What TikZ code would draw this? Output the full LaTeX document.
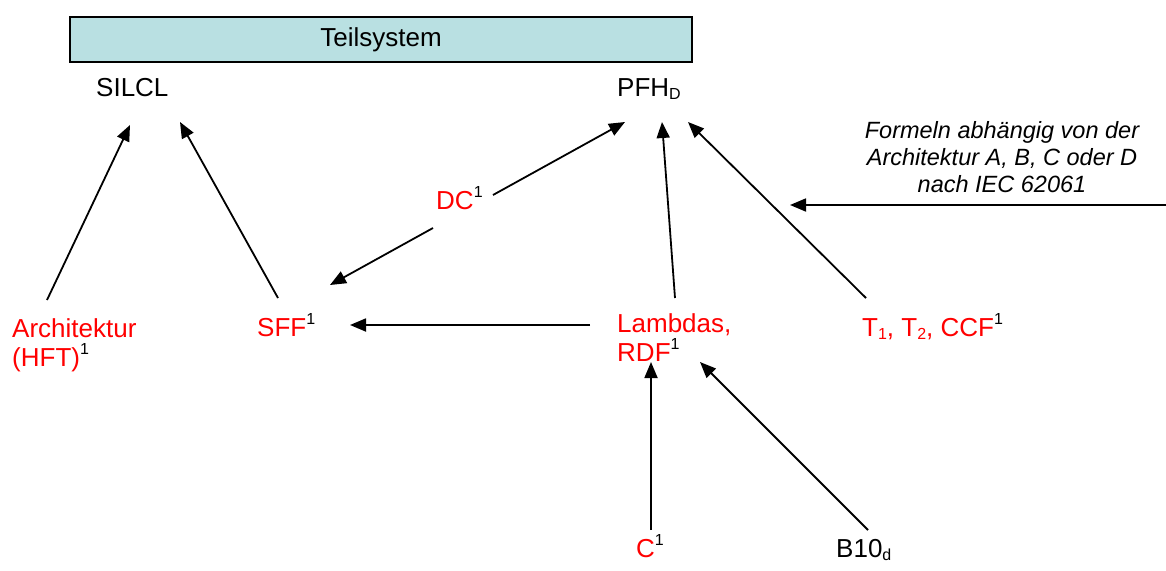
\documentclass[tikz,border=0pt]{standalone}
\usepackage{fontspec}
\setmainfont{Liberation Sans}
\usepackage{xcolor}
\usetikzlibrary{arrows.meta, positioning, calc}
\definecolor{boxteal}{RGB}{185,224,226}
% footnote mark (black) and lowered index
\newcommand{\fnone}{\textcolor{black}{\raisebox{12pt}{\fontsize{16}{16}\selectfont 1}}}
\newcommand{\lowidx}[1]{\raisebox{-3.5pt}{\fontsize{16}{16}\selectfont #1}}

\begin{document}
\begin{tikzpicture}[
            x=1pt, y=-1pt,
            font=\fontsize{26}{29}\selectfont,
            >={Triangle[length=16pt, width=13pt]},
            arr/.style  ={->, line width=1.8pt},
            lbl/.style  ={inner sep=0pt, anchor=base west},
            fac/.style  ={lbl, text=red},
            facml/.style={inner sep=0pt, anchor=north west, align=left, text=red},
            note/.style ={font=\fontsize{23.5}{27}\selectfont\itshape, align=center, inner sep=0pt}
        ]
        \useasboundingbox (0,0) rectangle (1166,570);

        %% ===== top: subsystem and its results =====
        \node[draw, fill=boxteal, line width=1.3pt, minimum width=622pt,
              minimum height=45pt, inner sep=0pt] (teil) at (381,39.5) {Teilsystem};
        \node[lbl] (silcl) at (96,96)  {SILCL};
        \node[lbl] (pfh)   at (617,96) {PFH\lowidx{D}};

        \node[note] (formeln) at (1002,157)
            {Formeln abhängig von der\\ Architektur A, B, C oder D\\ nach IEC 62061};
        \coordinate (fhint) at (790,205);

        %% ===== middle row: parameters =====
        \node[facml] (arch) at (12,318)  {Architektur\\ (HFT)\fnone};
        \node[fac]   (sff)  at (257,336) {SFF\fnone};
        \node[fac]   (dc)   at (436,209) {DC\fnone};
        \node[facml] (lam)  at (617,313) {Lambdas,\\ RDF\fnone};
        \node[fac]   (tcc)  at (862,336) {T\lowidx{1}, T\lowidx{2}, CCF\fnone};

        %% ===== bottom row =====
        \node[fac] (cc)  at (636,557) {C\fnone};
        \node[lbl] (b10) at (836,557) {B10\lowidx{d}};

        %% ===== arrows =====
        \draw[arr] ([shift={(35,-18)}]arch.north west) -- ([shift={(34,29)}]silcl.base west);
        \draw[arr] ([shift={(21,-38)}]sff.base west)   -- ([shift={(84,26)}]silcl.base west);
        \draw[arr] ([shift={(57,-14)}]dc.base west)    -- ([shift={(8,26)}]pfh.base west);
        \draw[arr] ([shift={(-3,19)}]dc.base west)     -- ([shift={(73,-51)}]sff.base west);
        \draw[arr] ([shift={(58,-15)}]lam.north west)  -- ([shift={(45,26)}]pfh.base west);
        \draw[arr] ([shift={(4,-38)}]tcc.base west)    -- ([shift={(71,26)}]pfh.base west);
        \draw[arr] ([shift={(-27,12)}]lam.north west)  -- ([shift={(93,-11)}]sff.base west);
        \draw[arr] ([shift={(15,-27)}]cc.base west)    -- ([shift={(34,49)}]lam.north west);
        \draw[arr] ([shift={(32,-27)}]b10.base west)   -- ([shift={(83,49)}]lam.north west);
        \draw[arr] ([shift={(164,48)}]formeln.center)  -- (fhint);

    \end{tikzpicture}
\end{document}
